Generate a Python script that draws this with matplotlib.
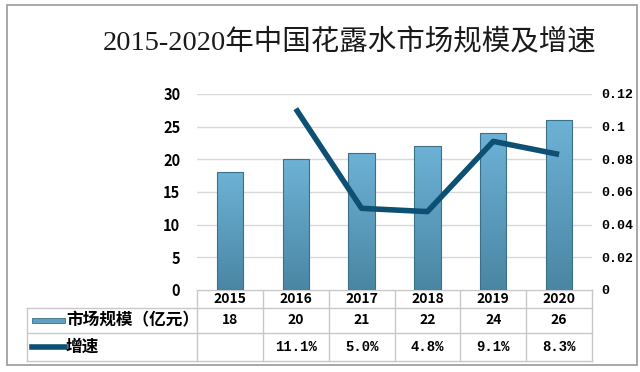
import numpy as np
import matplotlib.pyplot as plt
from matplotlib.patches import Rectangle
from matplotlib.lines import Line2D
from matplotlib.colors import LinearSegmentedColormap

plt.rcParams['font.family'] = ['Noto Sans CJK SC', 'DejaVu Sans']

years = ['2015', '2016', '2017', '2018', '2019', '2020']
scale = [18, 20, 21, 22, 24, 26]          # 市场规模（亿元）
growth = [None, 0.111, 0.050, 0.048, 0.091, 0.083]  # 增速
growth_txt = ['', '11.1%', '5.0%', '4.8%', '9.1%', '8.3%']
title = '2015-2020年中国花露水市场规模及增速'

W, H = 640, 372
fig = plt.figure(figsize=(W / 100, H / 100), dpi=100)

def fx(px):
    return px / W

def fy(py):
    return 1 - py / H

# outer frame
fig.patches.append(Rectangle((fx(7), fy(365)), fx(637) - fx(7), fy(5) - fy(365),
                             transform=fig.transFigure, fill=False,
                             edgecolor='#a0a0a0', lw=1.3))

fig.text(fx(350), fy(43), title, ha='center', va='center', fontsize=20.5,
         color='#1a1a1a', family=['Liberation Serif', 'Noto Sans CJK SC'])

x0, x1 = 197, 592
ytop, ybot = 94, 290
ax = fig.add_axes([fx(x0), fy(ybot), fx(x1) - fx(x0), fy(ytop) - fy(ybot)])
x = np.arange(len(years))
bars = ax.bar(x, scale, width=0.4, color='none', edgecolor='#3c6f88', lw=0.8,
              zorder=3)
grad = np.linspace(0, 1, 256).reshape(-1, 1)
cmap = LinearSegmentedColormap.from_list('b', ['#4a86a3', '#6db2d6'])
for b in bars:
    im = ax.imshow(grad, cmap=cmap, aspect='auto', origin='lower',
                   extent=[b.get_x(), b.get_x() + b.get_width(), 0, b.get_height()],
                   zorder=2)
    im.set_clip_path(b)
ax.set_xlim(-0.5, len(years) - 0.5)
ax.set_ylim(0, 30)
ax.set_yticks(range(0, 31, 5))
ax.set_xticks([])
ax.grid(axis='y', color='#d9d9d9', lw=1)
ax.set_axisbelow(True)
for s in ax.spines.values():
    s.set_visible(False)
ax.tick_params(axis='y', length=0, pad=12, labelsize=10.5)
for t in ax.get_yticklabels():
    t.set_fontweight('bold')

ax2 = ax.twinx()
gx = [i for i, g in enumerate(growth) if g is not None]
gy = [g for g in growth if g is not None]
ax2.plot(gx, gy, color='#0e5074', lw=4, solid_capstyle='butt', zorder=5)
ax2.set_ylim(0, 0.12)
ax2.set_yticks([0, 0.02, 0.04, 0.06, 0.08, 0.1, 0.12])
ax2.set_yticklabels(['0', '0.02', '0.04', '0.06', '0.08', '0.1', '0.12'])
ax2.tick_params(axis='y', length=0, pad=7)
for t in ax2.get_yticklabels():
    t.set_family('Liberation Mono')
    t.set_fontweight('bold')
    t.set_fontsize(9.5)
for s in ax2.spines.values():
    s.set_visible(False)

# data table
tab = fig.add_axes([0, 0, 1, 1], zorder=-1)
tab.set_xlim(0, W)
tab.set_ylim(H, 0)
tab.axis('off')
lc = '#c8c8c8'
cw = (x1 - x0) / len(years)
rows = [290, 308, 333, 361]
tab.plot([x0, x1], [rows[0], rows[0]], color=lc, lw=1)
for r in rows[1:]:
    tab.plot([27, x1], [r, r], color=lc, lw=1)
tab.plot([27, 27], [rows[1], rows[3]], color=lc, lw=1)
for i in range(len(years) + 1):
    tab.plot([x0 + i * cw] * 2, [rows[0], rows[3]], color=lc, lw=1)
for i, yr in enumerate(years):
    cx = x0 + (i + 0.5) * cw
    tab.text(cx, (rows[0] + rows[1]) / 2, yr, ha='center', va='center',
             fontsize=10, fontweight='bold')
    tab.text(cx, (rows[1] + rows[2]) / 2, str(scale[i]), ha='center',
             va='center', fontsize=10, fontweight='bold')
    tab.text(cx, (rows[2] + rows[3]) / 2, growth_txt[i], ha='center',
             va='center', fontsize=10, fontweight='bold',
             family='Liberation Mono')
tab.add_patch(Rectangle((32, 318), 33, 5, facecolor='#5e9fc2',
                        edgecolor='#3c6f88', lw=0.6))
tab.add_line(Line2D([32, 65], [347, 347], color='#0e5074', lw=4))
tab.text(66, (rows[1] + rows[2]) / 2, '市场规模（亿元）', ha='left', va='center',
         fontsize=12, fontweight='bold')
tab.text(66, (rows[2] + rows[3]) / 2, '增速', ha='left', va='center',
         fontsize=12, fontweight='bold')

fig.savefig('out.png', dpi=100)
